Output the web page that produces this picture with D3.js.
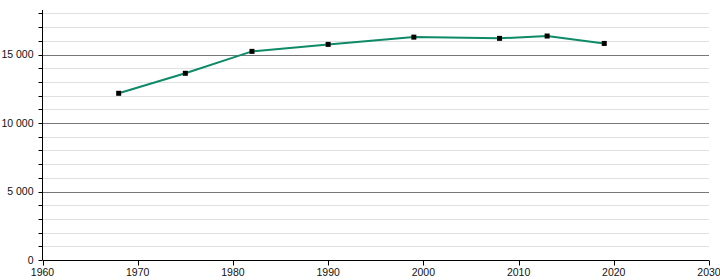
<!DOCTYPE html>
<html>
<head>
  <script src="https://cdn.jsdelivr.net/npm/d3@7"></script>
</head>
<style>
  body { margin: 0; background: #fff; }
  text { font-family: "Liberation Sans", Arial, sans-serif; fill: #111; }
</style>
<body>
  <svg width="720" height="280" id="chart"></svg>
  <script>
    // data
    var years = [1968, 1975, 1982, 1990, 1999, 2008, 2013, 2019];
    var population = [12170, 13630, 15230, 15740, 16270, 16180, 16350, 15810];
    var yearTicks = [1960, 1970, 1980, 1990, 2000, 2010, 2020, 2030];
    var majorTicks = [0, 5000, 10000, 15000];
    var minorTicks = d3.range(0, 18001, 1000);

    var svg = d3.select('#chart');
    var x = d3.scaleLinear().domain([1960, 2030]).range([42.5, 709]);
    var y = d3.scaleLinear().domain([0, 18250]).range([260, 10]);

    var fmt = function (d) { return d3.format(',')(d).replace(/,/g, ' '); };

    // light grid
    svg.append('g').selectAll('line')
      .data(minorTicks.filter(function (d) { return d % 5000 != 0; }))
      .enter().append('line')
      .attr('x1', x(1960)).attr('x2', x(2030))
      .attr('y1', function (d) { return Math.round(y(d)) + 0.5; })
      .attr('y2', function (d) { return Math.round(y(d)) + 0.5; })
      .attr('stroke', '#e0e0e0');

    // dark grid
    svg.append('g').selectAll('line')
      .data(majorTicks.filter(function (d) { return d > 0; }))
      .enter().append('line')
      .attr('x1', x(1960)).attr('x2', x(2030))
      .attr('y1', function (d) { return Math.round(y(d)) + 0.5; })
      .attr('y2', function (d) { return Math.round(y(d)) + 0.5; })
      .attr('stroke', '#777');

    // y axis
    var yAxis = svg.append('g').attr('transform', 'translate(42.5,0)');
    yAxis.append('line').attr('x1', 0).attr('x2', 0).attr('y1', 10).attr('y2', 260)
      .attr('stroke', '#000');
    yAxis.selectAll('.minor')
      .data(minorTicks)
      .enter().append('line')
      .attr('x1', -4).attr('x2', 0)
      .attr('y1', function (d) { return Math.round(y(d)) + 0.5; })
      .attr('y2', function (d) { return Math.round(y(d)) + 0.5; })
      .attr('stroke', '#000');
    yAxis.selectAll('text')
      .data(majorTicks)
      .enter().append('text')
      .attr('x', -9)
      .attr('y', function (d) { return y(d); })
      .attr('dy', '0.35em')
      .attr('text-anchor', 'end')
      .attr('font-size', '10.5px')
      .text(fmt);

    // x axis
    var xAxis = svg.append('g').attr('transform', 'translate(0,260.5)');
    xAxis.append('line').attr('x1', x(1960)).attr('x2', x(2030)).attr('y1', 0).attr('y2', 0)
      .attr('stroke', '#000');
    xAxis.selectAll('.tick')
      .data(yearTicks)
      .enter().append('line')
      .attr('x1', function (d) { return Math.round(x(d)) + 0.5; })
      .attr('x2', function (d) { return Math.round(x(d)) + 0.5; })
      .attr('y1', 0).attr('y2', 5)
      .attr('stroke', '#000');
    xAxis.selectAll('text')
      .data(yearTicks)
      .enter().append('text')
      .attr('x', function (d) { return x(d); })
      .attr('y', 15)
      .attr('text-anchor', 'middle')
      .attr('font-size', '10.5px')
      .text(function (d) { return d; });

    // line
    var points = years.map(function (d, i) { return [d, population[i]]; });
    var line = d3.line()
      .x(function (d) { return x(d[0]); })
      .y(function (d) { return y(d[1]); });
    svg.append('path')
      .datum(points)
      .attr('d', line)
      .attr('fill', 'none')
      .attr('stroke', '#0e8a68')
      .attr('stroke-width', 2);

    // markers
    svg.selectAll('rect.pt')
      .data(points)
      .enter().append('rect')
      .attr('class', 'pt')
      .attr('x', function (d) { return x(d[0]) - 2.5; })
      .attr('y', function (d) { return y(d[1]) - 2.5; })
      .attr('width', 5)
      .attr('height', 5)
      .attr('fill', '#000');
  </script>
</body>
</html>
